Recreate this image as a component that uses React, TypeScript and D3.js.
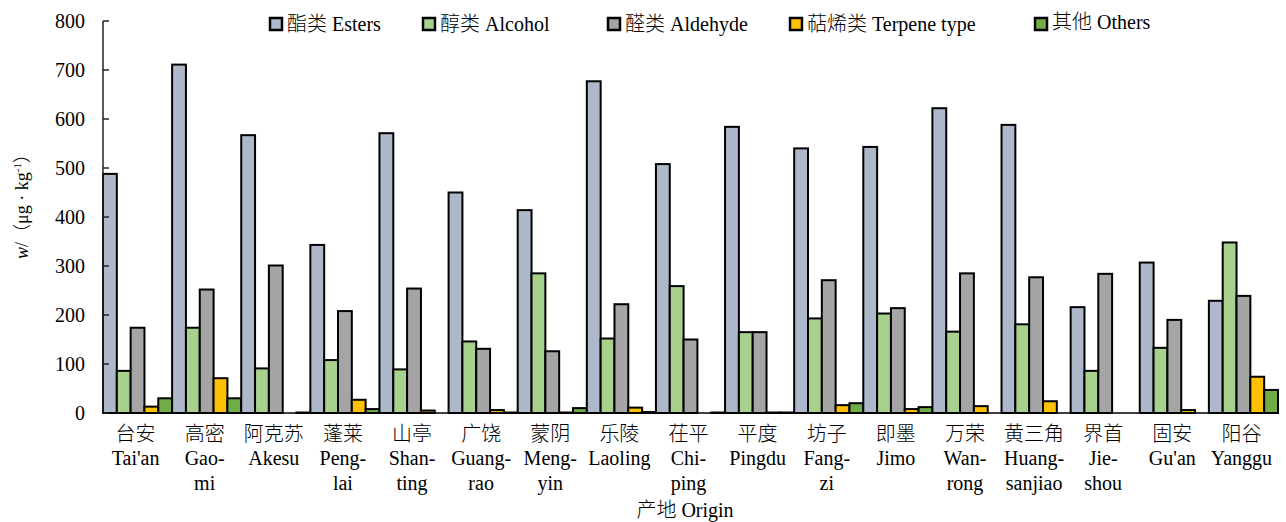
import React from 'react';
import * as d3 from 'd3';

const categoriesZh = ['台安', '高密', '阿克苏', '蓬莱', '山亭', '广饶', '蒙阴', '乐陵', '茌平', '平度', '坊子', '即墨', '万荣', '黄三角', '界首', '固安', '阳谷'];
const categoriesEn = [
  ["Tai'an"], ['Gao-', 'mi'], ['Akesu'], ['Peng-', 'lai'], ['Shan-', 'ting'], ['Guang-', 'rao'],
  ['Meng-', 'yin'], ['Laoling'], ['Chi-', 'ping'], ['Pingdu'], ['Fang-', 'zi'], ['Jimo'],
  ['Wan-', 'rong'], ['Huang-', 'sanjiao'], ['Jie-', 'shou'], ["Gu'an"], ['Yanggu'],
];
const seriesNames = ['酯类 Esters', '醇类 Alcohol', '醛类 Aldehyde', '萜烯类 Terpene type', '其他 Others'];
const esters = [488, 711, 567, 343, 571, 450, 414, 677, 508, 584, 540, 543, 622, 588, 216, 307, 229];
const alcohol = [86, 174, 91, 108, 89, 146, 285, 152, 259, 165, 193, 203, 166, 181, 86, 133, 348];
const aldehyde = [174, 252, 301, 208, 254, 131, 126, 222, 150, 165, 271, 214, 285, 277, 284, 190, 239];
const terpene = [13, 71, 0, 27, 5, 6, 1, 11, 0, 1, 16, 8, 14, 24, 0, 6, 74];
const others = [30, 30, 1, 8, 0, 1, 10, 2, 1, 1, 20, 12, 0, 0, 0, 0, 47];
const yTicks = [0, 100, 200, 300, 400, 500, 600, 700, 800];
const xTitle = '产地 Origin';

const seriesValues = [esters, alcohol, aldehyde, terpene, others];
const colors = ['#ADB9CA', '#A9D18E', '#A5A5A5', '#FFC000', '#70AD47'];
const legendX = [270, 423, 608, 790, 1035];

const W = 1286;
const H = 522;
const margin = { left: 103, right: 1278, top: 21, bottom: 413 };
const FONT = '"Liberation Serif", "Times New Roman", Times, serif';
const CJK = '"Noto Sans CJK SC", sans-serif';
const txt = { fontFamily: FONT, fontSize: '20px', fill: '#000' } as React.CSSProperties;
const cjk = { fontFamily: CJK, fontWeight: 300 } as React.CSSProperties;

function Mixed({ s }: { s: string }) {
  const runs = s.match(/[\u3000-\u9fff\uff00-\uffef]+|[^\u3000-\u9fff\uff00-\uffef]+/g) || [];
  return (
    <>
      {runs.map((r, i) =>
        /[\u3000-\u9fff\uff00-\uffef]/.test(r) ? (
          <tspan key={i} style={cjk}>{r}</tspan>
        ) : (
          <tspan key={i}>{r}</tspan>
        )
      )}
    </>
  );
}

export default function App() {
  const x = d3.scaleBand<string>().domain(categoriesZh).range([margin.left, margin.right]).paddingInner(0).paddingOuter(0);
  const x1 = d3.scaleBand<number>().domain(d3.range(seriesNames.length)).range([0, x.bandwidth()]).padding(0);
  const y = d3.scaleLinear().domain([0, 800]).range([margin.bottom, margin.top]);

  return (
    <svg width={W} height={H} style={{ position: 'absolute', left: 0, top: 0, background: '#fff' }}>
      {categoriesZh.map((c, i) => (
        <g key={c}>
          {seriesValues.map((vals, s) => (
            <rect
              key={s}
              x={(x(c) as number) + (x1(s) as number)}
              y={y(vals[i])}
              width={x1.bandwidth()}
              height={y(0) - y(vals[i])}
              fill={colors[s]}
              stroke="#000"
              strokeWidth={2}
            />
          ))}
        </g>
      ))}
      <line x1={margin.left} x2={margin.right + 1} y1={y(0)} y2={y(0)} stroke="#000" strokeWidth={1.5} />
      <line x1={margin.left} x2={margin.left} y1={y(800)} y2={y(0)} stroke="#222" strokeWidth={1.5} />
      {yTicks.map((t) => (
        <g key={t}>
          <line x1={margin.left} x2={margin.left + 6} y1={y(t)} y2={y(t)} stroke="#222" strokeWidth={1.5} />
          <text x={85} y={y(t) + 7} textAnchor="end" style={txt}>{t}</text>
        </g>
      ))}
      {categoriesZh.map((c, i) => {
        const cx = (x(c) as number) + x.bandwidth() / 2 - 2;
        return (
          <g key={c}>
            <text x={cx} y={441} textAnchor="middle" style={{ ...txt, ...cjk }}>{c}</text>
            {categoriesEn[i].map((ln, k) => (
              <text key={k} x={cx} y={465 + k * 25} textAnchor="middle" style={txt}>{ln}</text>
            ))}
          </g>
        );
      })}
      <text x={685} y={517} textAnchor="middle" style={txt}><Mixed s={xTitle} /></text>
      <text transform="translate(28,202) rotate(-90)" textAnchor="middle" style={{ ...txt, fontSize: '18px' }}>
        <tspan fontStyle="italic">w</tspan>
        <tspan>/</tspan>
        <tspan style={cjk}>（</tspan>
        <tspan>μg · kg</tspan>
        <tspan style={{ fontSize: '11px' }} dy={-7}>-1</tspan>
        <tspan style={cjk} dy={7}>）</tspan>
      </text>
      {seriesNames.map((n, s) => (
        <g key={n}>
          <rect x={legendX[s]} y={18} width={12} height={12} fill={colors[s]} stroke="#000" strokeWidth={2.5} />
          <text x={legendX[s] + 17} y={s === 4 ? 29 : 31} style={txt}><Mixed s={n} /></text>
        </g>
      ))}
    </svg>
  );
}
